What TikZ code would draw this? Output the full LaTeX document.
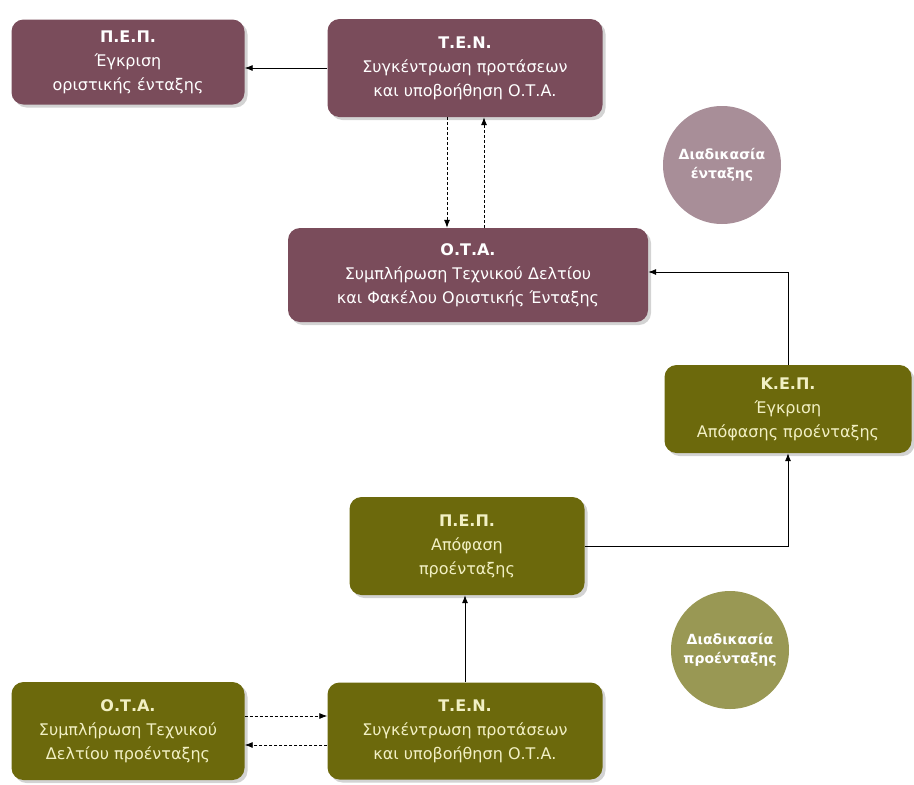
\documentclass[tikz,border=0pt]{standalone}
\usepackage{fontspec}
\setmainfont{DejaVu Sans}
\usetikzlibrary{shadows,arrows.meta}
\definecolor{entaxi}{RGB}{122,76,91}
\definecolor{proentaxi}{RGB}{108,105,12}
\definecolor{entaxicirc}{RGB}{168,142,152}
\definecolor{proentaxicirc}{RGB}{153,152,84}
\definecolor{greentext}{RGB}{242,240,196}

\begin{document}
\begin{tikzpicture}[x=1pt,y=-1pt,
  box/.style={rounded corners=12pt, align=center, font=\fontsize{16}{24}\selectfont,
    drop shadow={opacity=0.35, shadow xshift=3pt, shadow yshift=-3pt}},
  redbox/.style={box, fill=entaxi, text=white},
  olivebox/.style={box, fill=proentaxi, text=greentext},
  stage/.style={circle, minimum size=118pt, inner sep=0pt, align=center,
    font=\bfseries\fontsize{14}{19}\selectfont, text=white},
  arr/.style={-{Latex[length=8pt,width=6pt]}, thick},
  darr/.style={arr, densely dashed}]
\useasboundingbox (0,0) rectangle (914,785);

% diadikasia entaxis
\node (pepA) [redbox, minimum width=233pt, minimum height=85pt] at (128,62)
  {\textbf{Π.Ε.Π.}\\Έγκριση\\οριστικής ένταξης};
\node (tenA) [redbox, minimum width=275pt, minimum height=98pt] at (465,68)
  {\textbf{Τ.Ε.Ν.}\\Συγκέντρωση προτάσεων\\και υποβοήθηση Ο.Τ.Α.};
\node (otaB) [redbox, minimum width=360pt, minimum height=94pt] at (468,275)
  {\textbf{Ο.Τ.Α.}\\Συμπλήρωση Τεχνικού Δελτίου\\και Φακέλου Οριστικής Ένταξης};
\node (circA) [stage, fill=entaxicirc] at (722,165) {Διαδικασία\\ένταξης};

% diadikasia proentaxis
\node (kep) [olivebox, minimum width=247pt, minimum height=88pt] at (788,409)
  {\textbf{Κ.Ε.Π.}\\Έγκριση\\Απόφασης προένταξης};
\node (pepB) [olivebox, minimum width=235pt, minimum height=98pt] at (467,546)
  {\textbf{Π.Ε.Π.}\\Απόφαση\\προένταξης};
\node (circB) [stage, fill=proentaxicirc] at (730,650) {Διαδικασία\\προένταξης};
\node (otaC) [olivebox, minimum width=233pt, minimum height=98pt] at (128,731)
  {\textbf{Ο.Τ.Α.}\\Συμπλήρωση Τεχνικού\\Δελτίου προένταξης};
\node (tenB) [olivebox, minimum width=275pt, minimum height=97pt] at (465,731)
  {\textbf{Τ.Ε.Ν.}\\Συγκέντρωση προτάσεων\\και υποβοήθηση Ο.Τ.Α.};

\draw [arr] (tenA.west) -- (tenA.west -| pepA.east);
\draw [darr] ([xshift=-18pt]tenA.south) -- ([xshift=-18pt]tenA.south |- otaB.north);
\draw [darr] ([xshift=19pt]tenA.south |- otaB.north) -- ([xshift=19pt]tenA.south);
\draw [arr] (kep.north) |- ([yshift=3pt]otaB.east);
\draw [arr] (pepB.east) -| (kep.south);
\draw [arr] (tenB.north) -- (tenB.north |- pepB.south);
\draw [darr] ([yshift=15pt]otaC.east) -- ([yshift=15pt]otaC.east -| tenB.west);
\draw [darr] ([yshift=-14pt]otaC.east -| tenB.west) -- ([yshift=-14pt]otaC.east);
\end{tikzpicture}
\end{document}
